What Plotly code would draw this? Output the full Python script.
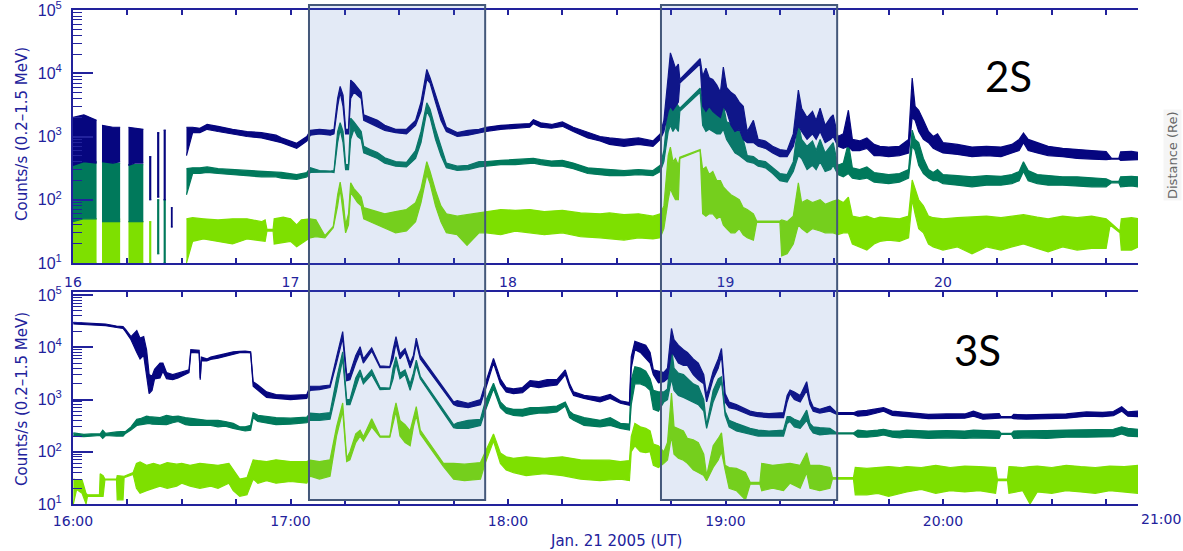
import plotly.graph_objects as go

N = None
# ---------------------------------------------------------------------------
# Count rates, Jan 21 2005.  Time in minutes after 16:00 UT.
# Each channel is drawn as a band between a low and a high envelope.
# ---------------------------------------------------------------------------

# ---- upper panel (2S): dark blue and teal share one time base -------------
TOP_T = [0, 3, 6.5, N, 8.0, 11, 13.0, N, 15.3, 17, 19.4, N,
         21.0, 21.6, N, 23.2, 23.8, N, 25.0, 25.6, N, 27.0, 27.5, N,
         31.3, 33, 35, 37, 40, 44, 48, 52, 56, 57.5,
         61.7, 64.5, 65.5, 68, 71, 72, 73.0, 73.7, 74.5, 75.2,
         76.0, 76.6, 77.5, 78.5, 79.5, 80.2, 82, 84, 86, 89,
         92, 94.5, 96, 97.6, 98.5, 100, 101.5, 103, 106, 109,
         112, 114, 118, 122, 126, 127, 129, 132, 135, 138,
         142, 145.4, 148, 152, 156, 160, 162, 163.0, 164.2, 164.8,
         165.5, 166.2, 167.0, 167.4, 173.0, 173.7, 174.6, 175.5, 176.5, 177.6,
         178.6, 179.4, 180.3, 181.5, 182.6, 183.8, 184.9, 186.0, 187.7, 189.0,
         191.0, 193.0, 195.0, 197.0, 198.7, 200.1, 201.0, 202.5, 204.0, 205.0,
         206.1, 207.5, 209.0, 209.7, 211.0, 212.5, 213.9, 215.0, 217, 219,
         221, 222.6, 225, 228, 230.5, 231.5, 232.3, 233.3, 234.6, 236,
         237.3, 238.5, 240, 244, 248, 252, 256, 259, 261, 262.2,
         263.5, 266, 269, 273, 277, 281, 285, 286.5, 288.5, 289,
         292, 293.9]

TOP_NAVY_LO = [350, 400, 380, N, 400, 380, 400, N, 350, 380, 380, N,
               100, 100, N, 110, 110, N, 100, 100, N, 37, 37, N,
               500, 1150, 1150, 1300, 1200, 1100, 1000, 950, 850, 800,
               650, 850, 1050, 1100, 1050, 1100, 3000, 5000, 3000, 1100,
               1100, 4000, 5000, 4500, 4000, 1800, 1600, 1400, 1250, 1150,
               1100, 1500, 2500, 8000, 7000, 3500, 1800, 1200, 1000, 1050,
               1150, 1200, 1300, 1350, 1400, 1600, 1400, 1350, 1450, 1200,
               950, 850, 750, 700, 750, 700, 900, 1200, 2500, 3000,
               2600, 3000, 3500, 7000, 14000, 3000, 2500, 3000, 2500, 2200,
               2000, 3000, 2500, 1500, 1200, 1300, 900, 800, 800, 700,
               650, 550, 480, 480, 700, 1500, 1200, 900, 1100, 900,
               1200, 800, 900, 1000, 700, 650, 700, 600, 600, 650,
               500, 500, 480, 500, 550, 2000, 1800, 1200, 900, 800,
               650, 600, 550, 520, 480, 500, 480, 550, 600, 800,
               600, 550, 500, 480, 450, 440, 430, 440, 440, 420,
               420, 430]
TOP_NAVY_HI = [2000, 2200, 1800, N, 1500, 1400, 1400, N, 1400, 1350, 1300, N,
               480, 480, N, 1150, 1150, N, 1260, 1260, N, 75, 75, N,
               1400, 1400, 1350, 1550, 1450, 1300, 1200, 1150, 1050, 950,
               780, 1000, 1250, 1300, 1250, 1300, 4000, 6200, 4500, 1300,
               1300, 7800, 7000, 5800, 5000, 2200, 2000, 1800, 1500, 1300,
               1300, 1800, 3500, 11500, 8500, 4500, 2500, 1400, 1150, 1250,
               1300, 1400, 1500, 1550, 1600, 1850, 1650, 1550, 1700, 1400,
               1150, 1000, 950, 900, 950, 850, 1100, 1800, 9000, 21000,
               16000, 12000, 14000, 8000, 17000, 9000, 12000, 8500, 8000, 6500,
               5000, 12500, 6000, 5000, 4500, 3500, 3000, 1200, 1800, 900,
               850, 700, 620, 600, 1100, 5400, 2800, 2000, 2500, 1800,
               2800, 1500, 2000, 2200, 1000, 1100, 2600, 900, 850, 950,
               750, 700, 680, 700, 900, 8400, 3000, 2600, 1800, 1200,
               1000, 1100, 800, 750, 680, 700, 680, 750, 900, 1130,
               900, 800, 700, 650, 620, 600, 580, 450, 450, 570,
               580, 560]

TOP_TEAL_LO = [45, 50, 50, N, 45, 45, 45, N, 45, 45, 45, N,
               N, N, N, 14, 14, N, 10, 10, N, N, N, N,
               120, 260, 260, 270, 260, 250, 240, 230, 230, 220,
               210, 230, 270, 275, 275, 270, 800, 1300, 800, 300,
               300, 900, 1300, 1000, 900, 550, 500, 450, 380, 340,
               330, 450, 800, 2500, 2000, 900, 500, 320, 290, 300,
               330, 340, 360, 360, 370, 380, 360, 340, 340, 310,
               260, 250, 240, 240, 250, 240, 280, 400, 1200, 1500,
               1200, 1400, 1200, 2500, 5000, 1500, 1200, 1300, 1200, 1100,
               1100, 1300, 900, 700, 550, 500, 450, 400, 380, 340,
               320, 260, 200, 190, 280, 500, 450, 300, 350, 300,
               400, 280, 300, 350, 250, 230, 260, 220, 210, 220,
               190, 185, 180, 190, 220, 700, 600, 350, 260, 220,
               200, 200, 180, 170, 160, 170, 170, 180, 200, 280,
               200, 180, 170, 170, 165, 160, 160, 185, 185, 160,
               165, 160]
TOP_TEAL_HI = [420, 450, 400, N, 400, 380, 380, N, 360, 360, 360, N,
               N, N, N, 100, 100, N, 100, 100, N, N, N, N,
               310, 320, 320, 330, 310, 300, 290, 280, 270, 270,
               250, 270, 320, 290, 285, 290, 1200, 1650, 1200, 360,
               360, 1950, 1700, 1400, 1200, 700, 620, 560, 460, 400,
               390, 600, 1200, 3400, 2700, 1300, 700, 380, 340, 350,
               400, 400, 420, 430, 440, 450, 430, 410, 420, 380,
               320, 310, 300, 290, 300, 290, 350, 600, 3000, 6000,
               4000, 3500, 3000, 2800, 5800, 3500, 3800, 3000, 2800, 2500,
               2000, 3200, 1700, 1600, 1400, 1200, 900, 500, 480, 420,
               400, 320, 260, 250, 400, 1650, 900, 700, 850, 600,
               900, 550, 700, 800, 350, 380, 800, 320, 300, 330,
               270, 260, 250, 260, 300, 1260, 900, 800, 450, 300,
               270, 300, 250, 240, 230, 240, 235, 250, 280, 400,
               290, 250, 240, 230, 230, 220, 215, 195, 195, 230,
               235, 230]

TOP_GREEN_T = [0, 3, 6.5, N, 8.0, 13.0, N, 15.3, 19.4, N, 21.0, 21.6, N,
               31.3, 33, 36, 40, 44, 48, 52, 53, 53.5, 55.2,
               55.5, 58, 60, 61.7, 63, 65.4, 67, 69.5, 71.8, 73.0,
               73.7, 74.5, 75.2, 76.0, 76.6, 77.5, 78.5, 79.5, 80.2, 82,
               84, 86, 89, 92, 94.5, 96, 97.6, 98.5, 100, 101.5,
               103, 106, 108.7, 112, 114, 118, 122, 126, 130, 135,
               140, 145.4, 148, 152, 156, 160, 162, 163.0, 164.2, 164.8,
               165.5, 166.2, 167.0, 167.4, 173.0, 173.7, 174.6, 175.5, 176.5, 177.6,
               178.6, 179.4, 180.3, 181.5, 182.6, 183.8, 184.9, 186.0, 187.7, 188.6,
               195.0, 195.5, 197.0, 198.7, 200.1, 201.0, 202.5, 204.0, 206.1, 207.5,
               209.7, 211.0, 212.5, 213.9, 215.0, 217, 219, 221, 222.6, 225,
               228, 230.5, 231.5, 232.3, 233.3, 234.6, 236, 237.3, 240, 244,
               248, 252, 256, 259, 262.2, 266, 269, 273, 277, 281,
               285, 286.1, 288.8, 289.2, 292, 293.9]
TOP_GREEN_LO = [10, 10, 10, N, 10, 10, N, 10, 10, N, 10, 10, N,
                10, 22, 24, 22, 20, 24, 22, 22, 32, 32,
                20, 21, 22, 18, 20, 25, 26, 25, 36, 80,
                150, 60, 30, 40, 130, 110, 90, 80, 50, 45,
                40, 35, 30, 32, 45, 90, 250, 180, 80, 45,
                30, 28, 19, 30, 30, 28, 32, 30, 28, 30,
                26, 25, 24, 23, 25, 24, 25, 35, 100, 150,
                120, 100, 100, 450, 600, 60, 55, 60, 60, 50,
                55, 40, 35, 30, 30, 35, 28, 25, 23, 44,
                44, 13, 14, 20, 40, 35, 30, 35, 32, 30,
                30, 28, 30, 30, 20, 18, 16, 20, 22, 23,
                22, 25, 100, 60, 35, 30, 20, 18, 16, 18,
                14, 18, 16, 18, 20, 17, 15, 18, 16, 17,
                17, 40, 30, 16, 16, 18]
TOP_GREEN_HI = [53, 50, 50, N, 50, 50, N, 45, 45, N, 45, 45, N,
                50, 52, 50, 48, 50, 50, 45, 48, 34, 34,
                50, 53, 50, 40, 48, 50, 48, 27, 38, 120,
                190, 100, 40, 60, 185, 150, 130, 110, 75, 70,
                65, 60, 65, 70, 90, 150, 400, 280, 140, 80,
                60, 55, 58, 62, 65, 70, 68, 70, 65, 68,
                62, 60, 62, 58, 60, 55, 60, 80, 500, 680,
                400, 450, 350, 470, 620, 300, 330, 250, 280, 200,
                200, 160, 140, 120, 110, 100, 75, 70, 60, 46,
                46, 48, 45, 55, 185, 90, 100, 90, 100, 85,
                95, 100, 90, 110, 55, 52, 55, 50, 53, 52,
                50, 55, 205, 150, 100, 80, 55, 52, 50, 52,
                53, 55, 52, 55, 58, 53, 50, 55, 52, 55,
                50, 44, 32, 50, 52, 50]

# ---- lower panel (3S) -----------------------------------------------------
BOT_T = [0.1, 3, 5, 7.5, 8.2, 9, 12, 13.8, 14.5, 16,
         17.6, 18.5, 19.5, 20.3, 21.0, 21.8, 22.5, 24.0, 24.8, 25.8,
         27.5, 29, 31, 32.0, 32.5, 34.8, 35.1, 35.4, 36.9, 38,
         40, 42, 44.2, 46, 47.5, 49.0, 49.7, 51, 53.4, 56,
         60, 64.5, 65.4, 68, 70.9, 72.7, 74.4, 75.5, 76.4, 78,
         79.2, 80.1, 82.4, 84.7, 87.4, 88.3, 89.1, 90.2, 91.6, 93.0,
         93.9, 94.7, 95.8, 105.0, 106, 109, 112.4, 113.7, 116.0, 117.9,
         119.5, 121.5, 124, 126.1, 128.5, 130.8, 133.5, 135.8, 137, 138.1,
         141, 145.4, 148.2, 151, 153.5, 154.0, 155, 156.5, 158, 159.2,
         160.1, 161.5, 163.0, 164.0, 165.1, 165.8, 167, 168.4, 169.5, 171.1,
         172.5, 174.0, 174.8, 176.6, 178.0, 178.9, 179.9, 181, 183, 186.8,
         189, 192, 196.0, 197.0, 197.8, 199, 200.6, 202.4, 203.3, 204.2,
         206, 208.8, 210.7, 215.3, 216.5, 219, 222, 223.6, 226, 228.1,
         230, 236, 241, 246, 248.4, 251, 255.5, 256.0, 258.9, 259.5,
         263, 268.6, 274, 279.6, 284, 287, 289.3, 291, 293.9]

BOT_NAVY_LO = [28000, 27500, 27000, 26500, 26500, 26000, 24000, 23000, 20000, 14000,
               8000, 6000, 7000, 3000, 1300, 1500, 2500, 2600, 3500, 2500,
               2400, 2600, 3000, 3300, 8000, 7800, 2400, 5500, 5500, 5900,
               6200, 6800, 7500, 7900, 8000, 7800, 1800, 1500, 1100, 1050,
               1000, 1050, 1500, 1550, 1700, 5000, 15000, 2300, 2400, 5000,
               8000, 5000, 8500, 4100, 4100, 6000, 12000, 6000, 8000, 4000,
               6000, 12000, 6000, 800, 750, 700, 800, 1500, 5000, 2000,
               1400, 1300, 1350, 1800, 1700, 1800, 1900, 3000, 1700, 1200,
               1050, 900, 1050, 850, 780, 4000, 9000, 8000, 6000, 5000,
               3000, 2100, 2200, 2500, 8000, 7000, 5000, 4500, 4500, 3000,
               2400, 2000, 900, 2500, 4000, 7000, 900, 700, 650, 500,
               470, 450, 450, 900, 1300, 1000, 900, 1500, 800, 600,
               550, 600, 520, 520, 480, 500, 560, 600, 500, 480,
               470, 430, 440, 440, 480, 420, 440, 445, 445, 430,
               420, 430, 440, 480, 470, 490, 600, 480, 470]
BOT_NAVY_HI = [30000, 29500, 29000, 28500, 28000, 28000, 25500, 25000, 22000, 16000,
               21000, 15000, 16000, 9000, 3000, 2800, 3800, 5000, 5000, 3300,
               3000, 3200, 3600, 3700, 9000, 8800, 2600, 6500, 6000, 6500,
               7000, 7500, 8200, 8400, 8500, 8200, 2200, 1900, 1400, 1250,
               1200, 1250, 1800, 1800, 1900, 6500, 20000, 3000, 3200, 7000,
               10300, 6000, 9800, 4400, 4300, 9000, 16000, 7500, 9500, 5000,
               7000, 15000, 7000, 900, 950, 850, 1000, 2000, 6100, 2500,
               1700, 1600, 1700, 2300, 2200, 2400, 2400, 3700, 2000, 1400,
               1200, 1100, 1250, 950, 880, 6600, 13000, 12000, 11000, 8000,
               3700, 3500, 3300, 4000, 23000, 14000, 11000, 9000, 8000, 6000,
               5000, 3000, 1200, 3500, 6000, 9500, 1300, 900, 800, 600,
               560, 540, 560, 1200, 1520, 1400, 1200, 2200, 1000, 720,
               650, 750, 560, 560, 600, 620, 680, 700, 600, 580,
               560, 520, 530, 530, 600, 520, 540, 470, 470, 520,
               510, 520, 530, 580, 570, 590, 730, 580, 600]

BOT_TEAL_LO = [200, 195, 200, 205, 180, 205, 200, 200, 225, 260,
               320, 330, 340, 350, 350, 340, 340, 330, 340, 330,
               360, 380, 330, 320, 320, 320, 320, 330, 330, 320,
               300, 310, 280, 260, 250, 260, 450, 380, 350, 330,
               340, 360, 400, 400, 420, 1500, 6000, 800, 800, 1800,
               3000, 2000, 3000, 1550, 1580, 2500, 5000, 2500, 3000, 1500,
               2500, 4500, 2500, 290, 280, 280, 320, 600, 1600, 700,
               550, 500, 480, 520, 550, 550, 580, 750, 450, 400,
               320, 300, 320, 280, 260, 800, 2000, 2000, 1800, 1500,
               650, 600, 900, 1000, 2500, 1500, 1200, 1100, 1000, 900,
               800, 600, 280, 900, 1500, 2200, 500, 300, 250, 220,
               200, 200, 200, 350, 380, 300, 280, 400, 280, 230,
               210, 220, 220, 220, 190, 190, 200, 210, 190, 185,
               190, 180, 185, 180, 185, 185, 180, 215, 215, 180,
               185, 180, 190, 190, 195, 195, 220, 200, 195]
BOT_TEAL_HI = [230, 215, 220, 220, 260, 225, 240, 240, 245, 300,
               420, 430, 460, 480, 470, 460, 460, 450, 470, 500,
               470, 480, 450, 440, 440, 420, 420, 410, 400, 400,
               400, 380, 350, 300, 300, 320, 560, 500, 470, 450,
               440, 460, 550, 530, 560, 2500, 8200, 1000, 1000, 2600,
               3700, 2400, 3700, 1700, 1650, 4000, 6600, 3200, 3700, 2000,
               3200, 5700, 2800, 330, 360, 400, 420, 900, 2050, 900,
               700, 650, 650, 700, 700, 720, 750, 900, 600, 520,
               450, 400, 450, 350, 340, 2360, 4250, 4000, 3500, 2500,
               1500, 1400, 1400, 1600, 10300, 4000, 3200, 3000, 2500, 2000,
               1800, 1000, 320, 1500, 2500, 2740, 600, 400, 350, 280,
               260, 250, 260, 470, 470, 420, 380, 630, 350, 300,
               290, 280, 230, 230, 260, 250, 260, 270, 250, 250,
               260, 250, 255, 250, 260, 255, 250, 225, 225, 250,
               255, 255, 260, 265, 270, 270, 300, 280, 270]

BOT_GREEN_T = [0.1, 1.0, 2.5, 3.6, 4.0, 7.3, 7.5, 8.3, 8.8, 12.0,
               12.2, 13.8, 14.1, 16.6, 17.5, 18.5, 20.3, 22.2, 24, 26,
               28.6, 30, 32.3, 35, 38, 40, 43, 44.2, 46, 48,
               49.7, 51, 53.4, 56, 60, 64.5, 65.4, 68, 70.9, 72.7,
               74.4, 75.5, 76.4, 78, 79.2, 80.1, 82.4, 84.7, 87.4, 88.3,
               89.1, 90.2, 91.6, 93.0, 93.9, 94.7, 95.8, 102.2, 105.0, 108,
               112.4, 113.7, 116.0, 117.9, 119.5, 121.5, 125, 130, 135, 140,
               145.4, 148, 151, 153.5, 154.0, 155, 156.5, 158, 159.2, 160.1,
               161.5, 163.0, 164.0, 165.1, 165.8, 167, 168.4, 169.5, 171.1, 172.5,
               174.0, 174.8, 176.6, 178.0, 178.9, 179.9, 181, 183, 185.5, 186.8,
               189.5, 190, 193, 196.0, 197.8, 200.6, 202.4, 203.3, 206, 208.8,
               209.5, 215.3, 215.8, 219, 222, 225, 228.1, 230, 234, 238,
               242, 246, 250, 254.5, 255, 257.8, 258.2, 262, 264.0, 266,
               270, 274, 278, 282, 286, 290, 293.9]
BOT_GREEN_LO = [10, 19, 16, 10, 14, 14, 14, 14, 29, 29,
                12, 12, 32, 37, 20, 16, 18, 20, 22, 20,
                22, 25, 22, 20, 22, 20, 25, 18, 14, 15,
                30, 25, 28, 25, 27, 25, 34, 30, 34, 200,
                600, 65, 70, 150, 200, 160, 300, 190, 190, 350,
                600, 200, 150, 130, 300, 500, 220, 52, 30, 28,
                30, 60, 160, 60, 45, 40, 35, 38, 35, 30,
                28, 29, 30, 28, 100, 130, 100, 96, 100, 55,
                50, 60, 70, 200, 90, 75, 69, 60, 45, 40,
                35, 28, 50, 70, 100, 45, 20, 18, 12, 24,
                24, 18, 20, 18, 25, 20, 40, 20, 18, 20,
                30, 30, 15, 15, 16, 14, 16, 17, 19, 16,
                18, 17, 18, 16, 28, 28, 16, 18, 10, 17,
                16, 18, 17, 16, 18, 17, 16]
BOT_GREEN_HI = [30, 29, 29, 16, 15, 15, 38, 35, 30, 30,
                35, 35, 34, 40, 60, 64, 55, 60, 55, 62,
                58, 60, 55, 60, 58, 55, 60, 45, 30, 32,
                70, 68, 65, 70, 65, 65, 69, 65, 70, 300,
                860, 75, 100, 220, 260, 195, 430, 200, 200, 500,
                860, 400, 330, 250, 450, 730, 260, 60, 60, 58,
                62, 100, 220, 95, 80, 75, 80, 75, 80, 70,
                70, 69, 65, 68, 195, 350, 300, 280, 250, 140,
                130, 100, 150, 1340, 300, 280, 250, 180, 170, 150,
                90, 35, 130, 180, 230, 55, 50, 48, 40, 26,
                26, 60, 55, 58, 60, 55, 96, 55, 55, 50,
                32, 32, 50, 48, 50, 52, 50, 52, 50, 55,
                50, 53, 52, 50, 30, 30, 52, 50, 52, 53,
                50, 55, 52, 50, 53, 52, 55]

HOUR_TICKS = [0, 60, 120, 180, 240]
TOP_TICK_TEXT = ["16", "17", "18", "19", "20"]
BOT_TICK_TEXT = ["16:00", "17:00", "18:00", "19:00", "20:00"]
DECADES = [1e1, 1e2, 1e3, 1e4, 1e5]
DECADE_TEXT = ["10<sup>1</sup>", "10<sup>2</sup>", "10<sup>3</sup>",
               "10<sup>4</sup>", "10<sup>5</sup>"]
# highlighted intervals (minutes after 16:00)
INTERVALS = [(65.1, 113.7), (162.2, 210.8)]

NAVY = "#06067f"
TEAL = "#00795b"
GREEN = "#7ee000"
AXIS = "#22229c"

W, H = 1183, 551
X0_PX, PX_PER_MIN = 73, 3.625
X_END = (1138 - X0_PX) / PX_PER_MIN


def segments(t, lo, hi):
    """Split a band into runs without gaps."""
    out, cur = [], ([], [], [])
    for a, b, c in zip(t, lo, hi):
        if a is None or b is None or c is None:
            if cur[0]:
                out.append(cur)
            cur = ([], [], [])
            continue
        cur[0].append(a)
        cur[1].append(b)
        cur[2].append(c)
    if cur[0]:
        out.append(cur)
    return out


fig = go.Figure()


def add_band(t, lo, hi, color, xa, ya):
    assert len(t) == len(lo) == len(hi), (len(t), len(lo), len(hi))
    for st, sl, sh in segments(t, lo, hi):
        fig.add_trace(go.Scatter(x=st, y=sl, mode="lines", xaxis=xa, yaxis=ya,
                                 line=dict(color=color, width=1.2),
                                 hoverinfo="skip", showlegend=False))
        fig.add_trace(go.Scatter(x=st, y=sh, mode="lines", xaxis=xa, yaxis=ya,
                                 line=dict(color=color, width=1.2),
                                 fill="tonexty", fillcolor=color,
                                 hoverinfo="skip", showlegend=False))


add_band(TOP_GREEN_T, TOP_GREEN_LO, TOP_GREEN_HI, GREEN, "x", "y")
add_band(TOP_T, TOP_TEAL_LO, TOP_TEAL_HI, TEAL, "x", "y")
add_band(TOP_T, TOP_NAVY_LO, TOP_NAVY_HI, NAVY, "x", "y")
add_band(BOT_GREEN_T, BOT_GREEN_LO, BOT_GREEN_HI, GREEN, "x2", "y2")
add_band(BOT_T, BOT_TEAL_LO, BOT_TEAL_HI, TEAL, "x2", "y2")
add_band(BOT_T, BOT_NAVY_LO, BOT_NAVY_HI, NAVY, "x2", "y2")

xtickfont = dict(family="DejaVu Sans, sans-serif", size=14, color=AXIS)
ytickfont = dict(family="Liberation Sans, Arial, sans-serif", size=16, color=AXIS)


def xaxis(domain_y_anchor, ticktext, standoff):
    return dict(range=[0, X_END], domain=[X0_PX / W, 1138 / W], anchor=domain_y_anchor,
                automargin=False,
                showline=True, linecolor=AXIS, linewidth=2, mirror="allticks",
                ticks="inside", ticklen=5, tickwidth=1.5, tickcolor=AXIS,
                tickmode="array", tickvals=HOUR_TICKS, ticktext=ticktext,
                minor=dict(dtick=15, tick0=0, ticks="inside", ticklen=5,
                           tickwidth=1.5, tickcolor=AXIS, showgrid=False),
                showgrid=False, zeroline=False, tickfont=xtickfont,
                ticklabelstandoff=standoff)


def yaxis(anchor, rng, top_px, bot_px):
    return dict(type="log", range=rng, domain=[1 - bot_px / H, 1 - top_px / H],
                anchor=anchor, automargin=False,
                showline=True, linecolor=AXIS, linewidth=2,
                mirror=False, ticks="inside", ticklen=20, tickwidth=1.5,
                tickcolor=AXIS, tickmode="array", tickvals=DECADES,
                ticktext=DECADE_TEXT, ticklabeloverflow="allow",
                minor=dict(ticks="inside", ticklen=9, tickwidth=1.2,
                           tickcolor=AXIS, dtick="D1", showgrid=False),
                showgrid=False, zeroline=False, tickfont=ytickfont,
                ticklabelstandoff=6)


shapes = []
for a, b in INTERVALS:
    shapes.append(dict(type="rect", xref="paper", yref="paper",
                       x0=(X0_PX + a * PX_PER_MIN) / W, x1=(X0_PX + b * PX_PER_MIN) / W,
                       y0=1 - 500 / H, y1=1 - 5 / H,
                       fillcolor="rgba(68,114,196,0.15)",
                       line=dict(color="#44587a", width=2), layer="above"))


def ann(text, px, py, **kw):
    d = dict(text=text, x=px / W, y=1 - py / H, xref="paper", yref="paper",
             xanchor="center", yanchor="middle", showarrow=False)
    d.update(kw)
    return d


label_font = dict(family="DejaVu Sans, sans-serif", size=15, color=AXIS)
annotations = [
    ann("Counts/s (0.2\u20131.5 MeV)", 22, 134, textangle=-90, font=label_font),
    ann("Counts/s (0.2\u20131.5 MeV)", 22, 399, textangle=-90, font=label_font),
    ann("Jan. 21 2005 (UT)", 616, 541, font=label_font),
    ann("21:00", 1139, 519, xanchor="left", font=xtickfont),
    ann("2S", 1008, 76, font=dict(family="Lato, Carlito, sans-serif", size=42, color="black")),
    ann("3S", 977, 350, font=dict(family="Lato, Carlito, sans-serif", size=42, color="black")),
    ann("Distance (Re)", 1172, 155, textangle=-90, bgcolor="#f5f5f5",
        font=dict(family="DejaVu Sans, sans-serif", size=13, color="#666666")),
]

fig.update_layout(
    width=W, height=H, autosize=False,
    margin=dict(l=0, r=0, t=0, b=0),
    paper_bgcolor="white", plot_bgcolor="white",
    xaxis=xaxis("y", TOP_TICK_TEXT, 5),
    yaxis=yaxis("x", [1, 5], 10, 263),
    xaxis2=xaxis("y2", BOT_TICK_TEXT, 3),
    yaxis2=yaxis("x2", [1, 5.06], 292, 504),
    shapes=shapes, annotations=annotations,
)

fig.write_html("out.html")
